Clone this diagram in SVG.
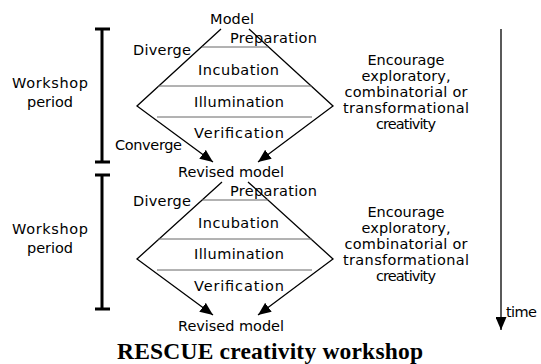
<svg xmlns="http://www.w3.org/2000/svg" width="541" height="364" viewBox="0 0 541 364">
<style>
.t{font-family:"DejaVu Sans","Liberation Sans",sans-serif;font-size:14.5px;fill:#000}
.m{text-anchor:middle}
.ln{stroke:#000;stroke-width:1.3;fill:none}
.sep{stroke:#666;stroke-width:1;fill:none}
.bar{stroke:#000;stroke-width:3;fill:none}
.title{font-family:"Liberation Serif","Times New Roman",serif;font-weight:bold;font-size:23.5px;text-anchor:middle;fill:#000}
</style>
<defs>
<marker id="ah" markerUnits="userSpaceOnUse" markerWidth="13" markerHeight="11" refX="13" refY="5.5" orient="auto">
<path d="M0,0 L13,5.5 L0,11 z" fill="#000"/>
</marker>
</defs>
<rect width="541" height="364" fill="#fff"/>

<g id="connectors">
<path class="ln" d="M221,29 L137,106 L213,162" marker-end="url(#ah)"/>
<path class="ln" d="M249,29 L333,106 L258,162" marker-end="url(#ah)"/>
<path class="sep" d="M202,47 H268 M158,86 H312 M157,117 H312"/>
<path class="ln" d="M222,182 L137,259 L213,315" marker-end="url(#ah)"/>
<path class="ln" d="M248,182 L333,259 L258,315" marker-end="url(#ah)"/>
<path class="sep" d="M202,200 H268 M158,239 H312 M157,270 H312"/>
<path class="ln" d="M501,29 V330" marker-end="url(#ah)"/>
</g>

<g id="period1">
<path class="bar" d="M102,29 V162 M95,29 H110 M95,162 H110"/>
<text class="t m" x="50" y="88" textLength="76">Workshop</text>
<text class="t m" x="50" y="107" textLength="46">period</text>
</g>
<g id="period2">
<path class="bar" d="M102,175 V309 M95,175 H110 M95,309 H110"/>
<text class="t m" x="50" y="234" textLength="76">Workshop</text>
<text class="t m" x="50" y="253" textLength="46">period</text>
</g>

<g id="model"><text class="t m" x="232" y="24" textLength="44">Model</text></g>
<g id="workshop1">
<text class="t" x="230" y="43" textLength="87">Preparation</text>
<text class="t" x="133" y="55" textLength="58">Diverge</text>
<text class="t m" x="238.5" y="75" textLength="81">Incubation</text>
<text class="t m" x="239" y="107" textLength="90">Illumination</text>
<text class="t m" x="239" y="138" textLength="90">Verification</text>
<text class="t" x="115" y="150" textLength="67">Converge</text>
</g>
<g id="revised1"><text class="t m" x="231" y="177" textLength="106">Revised model</text></g>
<g id="workshop2">
<text class="t" x="230" y="196" textLength="87">Preparation</text>
<text class="t" x="133" y="206" textLength="58">Diverge</text>
<text class="t m" x="238.5" y="228" textLength="81">Incubation</text>
<text class="t m" x="239" y="259" textLength="90">Illumination</text>
<text class="t m" x="239" y="291" textLength="90">Verification</text>
</g>
<g id="revised2"><text class="t m" x="231" y="331" textLength="106">Revised model</text></g>

<g id="encourage1">
<text class="t m" x="406" y="65" textLength="77">Encourage</text>
<text class="t m" x="406" y="81" textLength="89">exploratory,</text>
<text class="t m" x="406" y="97" textLength="123">combinatorial or</text>
<text class="t m" x="406" y="113" textLength="126">transformational</text>
<text class="t m" x="406" y="129" textLength="60">creativity</text>
</g>
<g id="encourage2">
<text class="t m" x="406" y="217" textLength="77">Encourage</text>
<text class="t m" x="406" y="233" textLength="89">exploratory,</text>
<text class="t m" x="406" y="249" textLength="123">combinatorial or</text>
<text class="t m" x="406" y="265" textLength="126">transformational</text>
<text class="t m" x="406" y="281" textLength="60">creativity</text>
</g>

<g id="time"><text class="t" x="506" y="317" textLength="31">time</text></g>
<text class="title" x="270" y="359" textLength="306">RESCUE creativity workshop</text>
</svg>
